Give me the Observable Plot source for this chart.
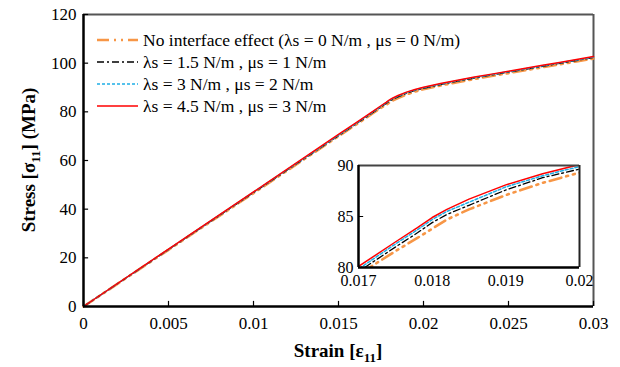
<!DOCTYPE html>
<html>
<head>
<meta charset="utf-8">
<script src="https://cdn.jsdelivr.net/npm/d3@7"></script>
<script src="https://cdn.jsdelivr.net/npm/@observablehq/plot@0.6"></script>
<style>
  body { margin: 0; background: #fff; }
  #wrap { position: relative; width: 620px; height: 367px; }
  #inset { position: absolute; left: 320px; top: 150px; }
</style>
</head>
<body>
<div id="wrap"><div id="main"></div><div id="inset"></div></div>
<script>
// ---- data ----
const strain = [0, 0.005, 0.01, 0.015, 0.016, 0.017, 0.0175, 0.0178, 0.018, 0.0182, 0.0185, 0.019, 0.0195, 0.02,
  0.021, 0.022, 0.023, 0.024, 0.025, 0.026, 0.027, 0.028, 0.029, 0.03];
const stressNoInterface = [0, 23.3, 46.6, 70.0, 74.6, 79.3, 81.6, 82.9, 83.8, 84.7, 85.7, 87.1, 88.3, 89.3,
  90.8, 92.2, 93.5, 94.7, 95.9, 97.1, 98.3, 99.5, 100.7, 101.9];
const stress15 = [0, 23.4, 46.8, 70.2, 74.9, 79.6, 82.0, 83.4, 84.4, 85.2, 86.1, 87.6, 88.8, 89.65,
  91.2, 92.6, 93.9, 95.1, 96.3, 97.5, 98.7, 99.9, 101.1, 102.3];
const stress3 = [0, 23.5, 47.0, 70.4, 75.1, 79.85, 82.3, 83.7, 84.7, 85.5, 86.4, 87.9, 89.0, 89.9,
  91.4, 92.8, 94.1, 95.3, 96.5, 97.7, 98.9, 100.1, 101.3, 102.5];
const stress45 = [0, 23.6, 47.1, 70.7, 75.4, 80.1, 82.5, 83.9, 84.9, 85.7, 86.7, 88.1, 89.2, 90.1,
  91.6, 93.0, 94.3, 95.5, 96.7, 97.9, 99.1, 100.3, 101.5, 102.7];
const seriesNames = [
  "No interface effect (λs = 0 N/m , μs = 0 N/m)",
  "λs = 1.5 N/m , μs = 1 N/m",
  "λs = 3 N/m , μs = 2 N/m",
  "λs = 4.5 N/m , μs = 3 N/m"
];
const xTicks = [0, 0.005, 0.01, 0.015, 0.02, 0.025, 0.03];
const yTicks = [0, 20, 40, 60, 80, 100, 120];
const insetXTicks = [0.017, 0.018, 0.019, 0.02];
const insetYTicks = [80, 85, 90];

const SERIF = "'Liberation Serif', 'Times New Roman', Tinos, 'DejaVu Serif', serif";

// ---- styles ----
const styles = [
  {stroke: "#F79646", strokeWidth: 2.6, strokeDasharray: "12,5,2,5,2,5"},
  {stroke: "#000000", strokeWidth: 1.3, strokeDasharray: "7,3,2,3"},
  {stroke: "#1FAEE6", strokeWidth: 1.5, strokeDasharray: "3,2"},
  {stroke: "#FF0000", strokeWidth: 1.5, strokeDasharray: null}
];
const allSeries = [stressNoInterface, stress15, stress3, stress45];
const rows = allSeries.map((vals, i) => strain.map((x, j) => ({x, y: vals[j], s: i})));

function lineMarks(clip) {
  return rows.map((r, i) => Plot.line(r, {x: "x", y: "y", ...styles[i], clip}));
}

// ---- main chart ----
const main = Plot.plot({
  width: 620, height: 367,
  marginLeft: 83, marginRight: 27, marginTop: 14, marginBottom: 61,
  style: {fontFamily: SERIF, fontSize: "17px", color: "#000", background: "#fff"},
  x: {domain: [0, 0.03], ticks: xTicks, label: null},
  y: {domain: [0, 120], ticks: yTicks, label: null},
  marks: [
    Plot.ruleY([120], {stroke: "#555", strokeWidth: 2}),
    Plot.ruleX([0.03], {stroke: "#555", strokeWidth: 2}),
    ...lineMarks(false),
    Plot.ruleX(xTicks, {y1: 0, y2: 2.1, stroke: "#000", strokeWidth: 1.2}),
    Plot.ruleY(yTicks, {x1: 0, x2: 0.0003, stroke: "#000", strokeWidth: 1.2}),
    Plot.ruleX([0], {stroke: "#000", strokeWidth: 2.5}),
    Plot.ruleY([0], {stroke: "#000", strokeWidth: 2.5}),
    Plot.axisX({ticks: xTicks, tickSize: 0, tickPadding: 10, tickFormat: d => String(d), fontSize: 17, label: null}),
    Plot.axisY({ticks: yTicks, tickSize: 0, tickPadding: 7, tickFormat: d => String(d), fontSize: 17, label: null})
  ]
});
document.getElementById("main").appendChild(main);

// axis titles & legend with subscripts
const svg = d3.select(main);
const xt = svg.append("text").attr("x", 338).attr("y", 357).attr("text-anchor", "middle")
  .attr("font-weight", "bold").attr("font-size", 19).attr("fill", "#000");
xt.append("tspan").text("Strain [ε");
xt.append("tspan").attr("font-size", 13).attr("dy", 5).text("11");
xt.append("tspan").attr("dy", -5).text("]");

const yt = svg.append("text").attr("transform", "translate(35,160) rotate(-90)").attr("text-anchor", "middle")
  .attr("font-weight", "bold").attr("font-size", 19).attr("fill", "#000");
yt.append("tspan").text("Stress [σ");
yt.append("tspan").attr("font-size", 13).attr("dy", 5).text("11");
yt.append("tspan").attr("dy", -5).text("] (MPa)");

const legY = [40, 62, 84, 106];
const leg = svg.append("g").attr("text-anchor", "start");
seriesNames.forEach((name, i) => {
  const st = styles[i];
  leg.append("line").attr("x1", 97).attr("x2", 138).attr("y1", legY[i]).attr("y2", legY[i])
    .attr("stroke", st.stroke).attr("stroke-width", st.strokeWidth)
    .attr("stroke-dasharray", st.strokeDasharray);
  leg.append("text").attr("x", 143).attr("y", legY[i]).attr("dy", "0.35em").attr("text-anchor", "start")
    .attr("font-size", 17.5).attr("fill", "#000").text(name);
});

// ---- inset ----
const inset = Plot.plot({
  width: 284, height: 142,
  marginLeft: 38, marginRight: 25, marginTop: 15, marginBottom: 25,
  style: {fontFamily: SERIF, fontSize: "16px", color: "#000", background: "transparent"},
  x: {domain: [0.017, 0.02], ticks: insetXTicks, label: null},
  y: {domain: [80, 90], ticks: insetYTicks, label: null},
  marks: [
    ...lineMarks(true),
    Plot.ruleY(insetYTicks, {x1: 0.017, x2: 0.01707, stroke: "#000", strokeWidth: 1}),
    Plot.ruleY([90], {stroke: "#444", strokeWidth: 2}),
    Plot.ruleX([0.02], {stroke: "#222", strokeWidth: 2}),
    Plot.ruleX([0.017], {stroke: "#000", strokeWidth: 2.5}),
    Plot.ruleY([80], {stroke: "#000", strokeWidth: 2.5}),
    Plot.axisX({ticks: insetXTicks, tickSize: 0, tickPadding: 7, tickFormat: d => String(d), fontSize: 16, label: null}),
    Plot.axisY({ticks: insetYTicks, tickSize: 0, tickPadding: 5, tickFormat: d => String(d), fontSize: 16, label: null})
  ]
});
document.getElementById("inset").appendChild(inset);

// force serif font on every text element
d3.selectAll("svg text, svg tspan, svg g").style("font-family", SERIF);
d3.selectAll("svg").attr("font-family", SERIF);
</script>
</body>
</html>
